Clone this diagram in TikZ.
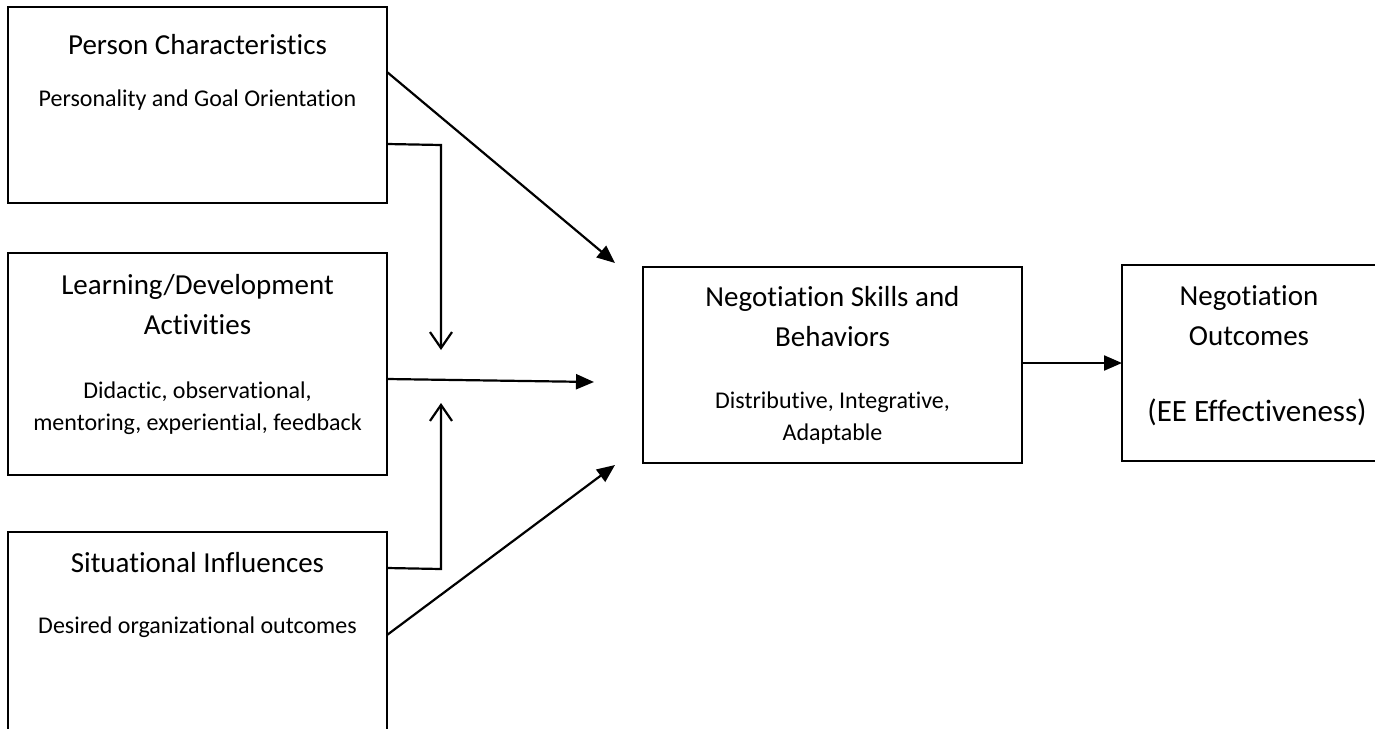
\documentclass[tikz,border=0pt]{standalone}
\usepackage{fontspec}
\setmainfont{Carlito}[Ligatures=CommonOff]
\usetikzlibrary{arrows.meta,calc}
\begin{document}
\begin{tikzpicture}[x=1pt,y=-1pt,
  box/.style={draw,line width=1.9pt,inner sep=0pt,outer sep=0pt,rectangle},
  ttl/.style={font=\fontsize{29}{40}\selectfont,align=center,inner sep=0pt},
  eff/.style={font=\fontsize{31}{40}\selectfont,align=center,inner sep=0pt},
  sub/.style={font=\fontsize{24}{32}\selectfont,align=center,inner sep=0pt},
  conn/.style={line width=2.2pt,-{Triangle[length=18pt,width=15pt]}},
  modr/.style={line width=2.2pt,-{Straight Barb[length=16pt,width=22pt,line width=2.2pt]}}
]
\useasboundingbox (0,0) rectangle (1375,728);
% boxes
\node[box,minimum width=379pt,minimum height=196pt] (pc) at (197.5,105) {};
\node[box,minimum width=379pt,minimum height=222pt] (ld) at (197.5,364) {};
\node[box,minimum width=379pt,minimum height=218pt] (si) at (197.5,641) {};
\node[box,minimum width=379pt,minimum height=196pt] (ns) at (832.5,365) {};
\node[box,minimum width=263pt,minimum height=196pt] (no) at (1253.5,363) {};
% texts
\node[ttl] (pct) at (197.5,45) {Person Characteristics};
\node[sub] (pcs) at (197.5,100) {Personality and Goal Orientation};
\node[ttl] (ldt) at (197.5,305) {Learning/Development\\Activities};
\node[sub] (lds) at (197.5,408) {Didactic, observational,\\mentoring, experiential, feedback};
\node[ttl] (sit) at (197.5,563) {Situational Influences};
\node[sub] (sis) at (197.5,627) {Desired organizational outcomes};
\node[ttl] (nst) at (832.5,317) {Negotiation Skills and\\Behaviors};
\node[sub] (nss) at (832.5,418) {Distributive, Integrative,\\Adaptable};
\node[ttl] (not) at (1249,316) {Negotiation\\Outcomes};
\node[eff] (noe) at (1257,412) {(EE Effectiveness)};
% endpoints
\coordinate (t1) at (615,263);
\coordinate (t3) at (594,382);
\coordinate (t5) at (615,465);
\coordinate (e2) at (441,145);
\coordinate (d2) at (441,350);
\coordinate (e4) at (441,569);
\coordinate (d4) at (441,403);
% connectors
\draw[conn] ($(pc.north east)+(0,65)$) -- (t1);
\draw[modr] ($(pc.north east)+(0,137)$) -- (e2) -- (d2);
\draw[conn] ($(ld.north east)+(0,126)$) -- (t3);
\draw[modr] ($(si.north east)+(0,36)$) -- (e4) -- (d4);
\draw[conn] ($(si.north east)+(0,103)$) -- (t5);
\draw[conn] (ns.east |- 0,363) -- (no.west |- 0,363);
\end{tikzpicture}
\end{document}
